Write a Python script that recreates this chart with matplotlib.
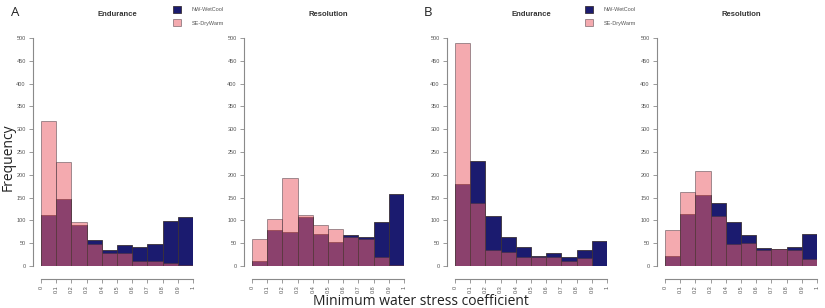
import numpy as np
import matplotlib as mpl
mpl.use('Agg')
import matplotlib.pyplot as plt
from matplotlib.patches import Patch

# bin left edges of the water stress coefficient histograms
bin_lefts = [0.0, 0.1, 0.2, 0.3, 0.4, 0.5, 0.6, 0.7, 0.8, 0.9]
xtick_vals = [0, 0.1, 0.2, 0.3, 0.4, 0.5, 0.6, 0.7, 0.8, 0.9, 1]
xtick_labels = ['0', '0.1', '0.2', '0.3', '0.4', '0.5', '0.6', '0.7', '0.8', '0.9', '1']
ytick_vals = list(range(0, 501, 50))

panel_titles = ['Endurance', 'Resolution', 'Endurance', 'Resolution']
series_names = ['NW-WetCool', 'SE-DryWarm']

# counts per bin
a_endurance_nw = [111, 148, 91, 56, 34, 47, 42, 49, 99, 107]
a_endurance_se = [319, 229, 97, 48, 29, 28, 12, 10, 7, 2]
a_resolution_nw = [12, 80, 74, 108, 71, 52, 67, 64, 97, 158]
a_resolution_se = [59, 103, 194, 111, 90, 81, 63, 59, 20, 3]
b_endurance_nw = [180, 230, 109, 64, 42, 21, 28, 20, 36, 55]
b_endurance_se = [489, 139, 35, 30, 19, 20, 20, 12, 17, 1]
b_resolution_nw = [21, 115, 155, 139, 96, 68, 39, 38, 42, 70]
b_resolution_se = [80, 163, 209, 109, 48, 50, 36, 38, 35, 15]

nw_col = '#1b1b6f'
se_col = '#ec626c'
se_alpha = 0.54
edge_col = '#3a3038'
axis_col = '#8a8a8a'

W, H = 825, 308
fig = plt.figure(figsize=(W / 100, H / 100), dpi=100)

# pixel positions of the data area (x at 0 and 1, y at 0 and 500)
panels = [
    (41, 193, a_endurance_nw, a_endurance_se),
    (252, 404, a_resolution_nw, a_resolution_se),
    (455, 607, b_endurance_nw, b_endurance_se),
    (665, 817, b_resolution_nw, b_resolution_se),
]
y_top, y_bot = 38, 266

for i, (x0, x1, nw, se) in enumerate(panels):
    ax = fig.add_axes([x0 / W, 1 - y_bot / H, (x1 - x0) / W, (y_bot - y_top) / H])
    ax.bar(bin_lefts, nw, width=0.1, align='edge', color=nw_col,
           edgecolor=edge_col, linewidth=0.6)
    ax.bar(bin_lefts, se, width=0.1, align='edge', color=se_col, alpha=se_alpha,
           edgecolor=edge_col, linewidth=0.6)
    ax.set_xlim(0, 1)
    ax.set_ylim(0, 500)
    for s in ['top', 'right']:
        ax.spines[s].set_visible(False)
    ax.spines['left'].set_position(('outward', 6))
    ax.spines['bottom'].set_position(('outward', 9))
    for s in ['left', 'bottom']:
        ax.spines[s].set_color(axis_col)
        ax.spines[s].set_linewidth(0.8)
    ax.set_xticks(xtick_vals)
    ax.set_xticklabels(xtick_labels, rotation=90)
    ax.set_yticks(ytick_vals)
    ax.tick_params(length=3, width=0.6, color=axis_col, labelsize=4,
                   labelcolor='#555555', pad=2)
    ax.set_title(panel_titles[i], fontsize=5.5, fontweight='bold',
                 family='Liberation Sans', color='#333333', y=1.0, pad=0)
    ax.title.set_position((0.5, (H - 14) / H))
    ax.title.set_transform(mpl.transforms.blended_transform_factory(ax.transAxes, fig.transFigure))
    ax.title.set_verticalalignment('center')
    for lab in ax.get_xticklabels() + ax.get_yticklabels():
        lab.set_family('Liberation Sans')

handles = [Patch(facecolor=nw_col, edgecolor=edge_col, linewidth=0.6),
           Patch(facecolor=se_col, alpha=se_alpha, edgecolor=edge_col, linewidth=0.6)]
for lx in [173, 585]:
    fig.legend(handles, series_names, loc='upper left',
               bbox_to_anchor=(lx / W, 1 - 6 / H), frameon=False,
               prop={'size': 4, 'family': 'Liberation Sans'},
               handlelength=1.5, handleheight=1.5, handletextpad=1.8,
               labelspacing=1.2, borderpad=0, borderaxespad=0,
               labelcolor='#555555')

fig.text(15 / W, 1 - 12 / H, 'A', fontsize=9.5, family='Open Sans',
         ha='center', va='center', color='#222222')
fig.text(428 / W, 1 - 12 / H, 'B', fontsize=9.5, family='Open Sans',
         ha='center', va='center', color='#222222')
fig.text(8 / W, 1 - 157 / H, 'Frequency', fontsize=10, family='Open Sans',
         rotation=90, ha='center', va='center', color='#222222')
fig.text(421 / W, 1 - 294 / H, 'Minimum water stress coefficient', fontsize=10,
         family='Open Sans', ha='center', va='top', color='#222222')

fig.savefig('out.png', dpi=100)
